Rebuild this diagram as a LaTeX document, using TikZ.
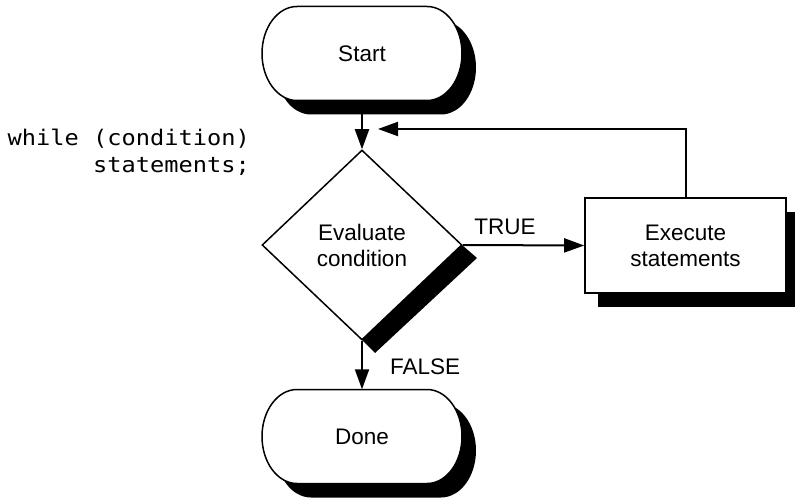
\documentclass[tikz,border=0pt]{standalone}
\usepackage{fontspec}
\setmainfont{Liberation Sans}
\newfontfamily\codefont[FakeStretch=1.1]{DejaVu Sans Mono}
\usetikzlibrary{shapes.geometric,arrows.meta,shadows}
\pgfdeclarelayer{bg}
\pgfsetlayers{bg,main}
\tikzset{
  lbl/.style={font=\fontsize{22.5}{26}\selectfont, align=center, inner sep=0pt},
  term/.style={lbl, minimum width=201pt, minimum height=94pt},
  decision/.style={lbl, shape=diamond, draw, fill=white, line width=1.5pt,
    minimum width=200pt, minimum height=190pt},
  procbox/.style={lbl, draw, fill=white, line width=1.6pt,
    minimum width=201pt, minimum height=95pt,
    drop shadow={shadow xshift=13pt, shadow yshift=-14pt, fill=black, opacity=1}},
  conn/.style={line width=2pt, -{Triangle[length=20pt,width=14pt]}},
  codetxt/.style={font=\codefont\fontsize{21.5}{27}\selectfont, align=right, inner sep=0pt},
}
\newcommand\termoutline[2]{%
  (#1-65,#2+47) -- (#1+65,#2+47)
  arc[start angle=90,end angle=-90,x radius=35pt,y radius=47pt]
  -- (#1-65,#2-47)
  arc[start angle=270,end angle=90,x radius=35pt,y radius=47pt] -- cycle}
\newcommand\termshape[2]{%
  \fill[black] \termoutline{#1+14}{#2-14};
  \filldraw[fill=white, draw=black, line width=1.5pt] \termoutline{#1}{#2};}
\begin{document}
\begin{tikzpicture}[x=1pt,y=1pt]
\useasboundingbox (0,0) rectangle (795,-500);
% terminal shapes
\termshape{362}{-53.5}
\termshape{362}{-436.5}
% diamond shadow band
\fill[black] (462,-245) -- (362,-340) -- (375,-353) -- (477,-258) -- cycle;
% nodes
\node[term] (start) at (362,-53.5) {Start};
\node[decision] (eval) at (362,-245) {Evaluate\\condition};
\node[procbox] (exec) at (685.5,-245.5) {Execute\\statements};
\node[term] (done) at (362,-436.5) {Done};
\node[lbl, anchor=base] (truelbl) at (505,-234) {TRUE};
\node[lbl, anchor=base west] (falselbl) at (390,-374) {FALSE};
\node[codetxt, anchor=north east] (code) at (250,-129) {while (condition)\\statements;};
\coordinate (loopend) at (378,-129);
% connectors
\begin{pgfonlayer}{bg}
\draw[conn] (start.south) -- (eval.north);
\draw[conn] (exec.north) |- (loopend);
\draw[conn] (eval.east) -- (exec.west);
\draw[conn] (eval.south) -- (done.north);
\end{pgfonlayer}
\end{tikzpicture}
\end{document}
